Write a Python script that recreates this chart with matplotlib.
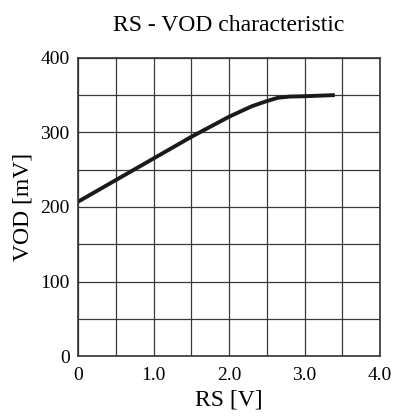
import numpy as np
import matplotlib.pyplot as plt

rs = [0.0, 0.5, 1.0, 1.5, 2.0, 2.3, 2.5, 2.65, 2.8, 3.0, 3.4]
vod = [207, 236, 265, 294, 321, 335, 342, 346.5, 348, 348.5, 350]

xticks = [0, 1.0, 2.0, 3.0, 4.0]
xtick_labels = ['0', '1.0', '2.0', '3.0', '4.0']
yticks = [0, 100, 200, 300, 400]

plt.rcParams['font.family'] = ['Liberation Serif', 'DejaVu Serif']

fig = plt.figure(figsize=(3.98, 4.16), dpi=100)
ax = fig.add_axes([0.196, 0.144, 0.759, 0.717])

ax.plot(rs, vod, color='#1a1a1a', lw=2.8, solid_capstyle='butt')

ax.set_xlim(0, 4.0)
ax.set_ylim(0, 400)
ax.set_xticks(np.arange(0, 4.01, 0.5), minor=True)
ax.set_yticks(np.arange(0, 401, 50), minor=True)
ax.set_xticks(xticks)
ax.set_xticklabels(xtick_labels)
ax.set_yticks(yticks)
ax.grid(True, which='both', color='#3a3a3a', lw=0.9)
ax.tick_params(which='both', length=0, labelsize=14)
ax.tick_params(axis='x', pad=8)
ax.tick_params(axis='y', pad=6)
for s in ax.spines.values():
    s.set_color('#333333')
    s.set_linewidth(1.2)

ax.set_xlabel('RS [V]', fontsize=17, labelpad=4)
ax.set_ylabel('VOD [mV]', fontsize=17, labelpad=5)
ax.set_title('RS - VOD characteristic', fontsize=17, pad=19)

fig.savefig('out.png', dpi=100)
